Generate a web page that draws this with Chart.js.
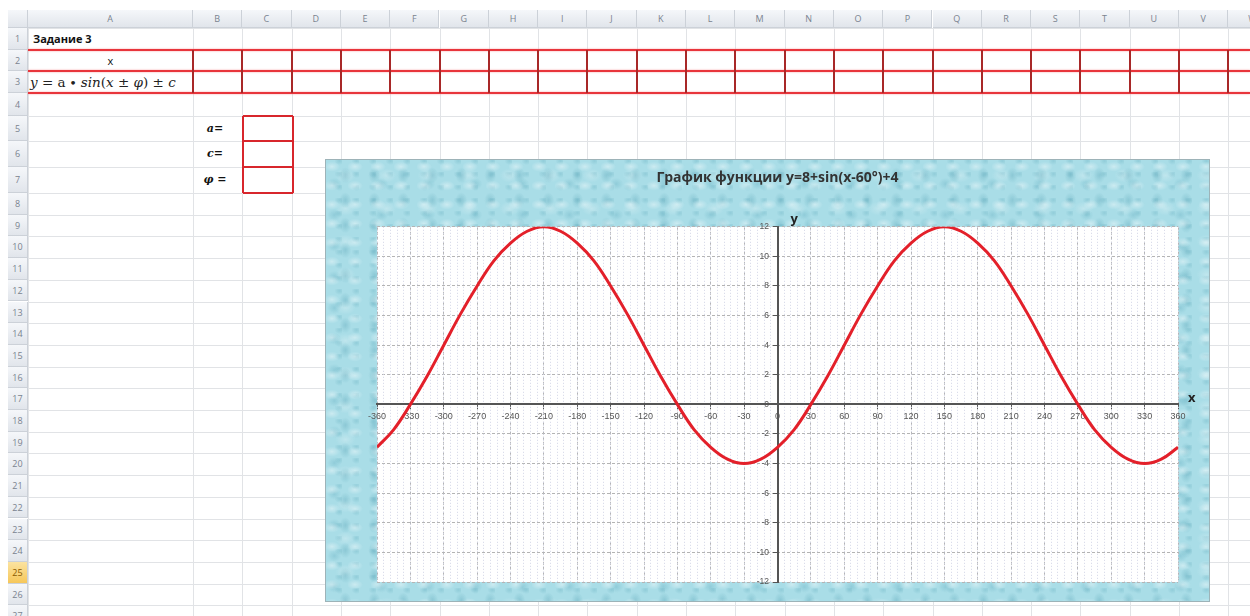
<!DOCTYPE html>
<html>
<head>
<meta charset="utf-8">
<script src="https://cdn.jsdelivr.net/npm/chart.js@4.4.0/dist/chart.umd.min.js"></script>
<style>
body { margin: 0; width: 1250px; height: 616px; overflow: hidden; background: #fff; position: relative; font-family: "Open Sans", "Noto Sans", sans-serif; }
.ln { position: absolute; background: #e1e3e6; }
.hdr { position: absolute; box-sizing: border-box; background: linear-gradient(#f5f7fa, #e1e5eb); color: #7a838f; font-size: 9px; text-align: center; border-right: 1px solid #ccd1d8; border-bottom: 1px solid #ccd1d8; }
.sel { background: linear-gradient(#fbe3a0, #f6c75a); color: #8a5a00; }
.txt { position: absolute; white-space: nowrap; color: #111; }
.red { position: absolute; }
#chartBox {
    position: absolute; left: 325px; top: 159px; width: 885px; height: 443px;
    box-shadow: inset 0 0 0 1px #9db3b8;
    background-color: #a9dde7;
    background-image:
        radial-gradient(8px 5px at 30% 40%, rgba(255,255,255,0.40), transparent),
        radial-gradient(6px 8px at 70% 65%, rgba(70,150,170,0.30), transparent),
        radial-gradient(10px 7px at 50% 50%, rgba(255,255,255,0.25), transparent),
        radial-gradient(7px 6px at 20% 80%, rgba(80,160,180,0.28), transparent),
        radial-gradient(5px 4px at 85% 15%, rgba(90,165,185,0.30), transparent);
    background-size: 23px 19px, 29px 25px, 41px 33px, 47px 31px, 17px 13px;
}
</style>
</head>
<body>
<div id="sheet"></div>
<div id="chartBox"><canvas id="funcChart"></canvas></div>
<script>
// values
const xValues = [-360, -345, -330, -315, -300, -285, -270, -255, -240, -225, -210, -195, -180, -165, -150, -135, -120, -105, -90, -75, -60, -45, -30, -15,
                 0, 15, 30, 45, 60, 75, 90, 105, 120, 135, 150, 165, 180, 195, 210, 225, 240, 255, 270, 285, 300, 315, 330, 345, 360];
const yValues = [-2.9, -1.7, 0, 1.9, 4, 6.1, 8, 9.7, 10.9, 11.7, 12, 11.7, 10.9, 9.7, 8, 6.1, 4, 1.9, 0, -1.7, -2.9, -3.7, -4, -3.7,
                 -2.9, -1.7, 0, 1.9, 4, 6.1, 8, 9.7, 10.9, 11.7, 12, 11.7, 10.9, 9.7, 8, 6.1, 4, 1.9, 0, -1.7, -2.9, -3.7, -4, -3.7, -2.9];
const xTickValues = [-360, -330, -300, -270, -240, -210, -180, -150, -120, -90, -60, -30, 0, 30, 60, 90, 120, 150, 180, 210, 240, 270, 300, 330, 360];
const yTickValues = [-12, -10, -8, -6, -4, -2, 0, 2, 4, 6, 8, 10, 12];

// spreadsheet around the chart
const sheet = document.getElementById('sheet');
function box(cls, l, t, w, h, html, style) {
    const d = document.createElement('div');
    d.className = cls;
    d.style.left = l + 'px'; d.style.top = t + 'px';
    d.style.width = w + 'px'; d.style.height = h + 'px';
    if (style) d.style.cssText += style;
    if (html) d.innerHTML = html;
    sheet.appendChild(d);
    return d;
}

const letters = 'ABCDEFGHIJKLMNOPQRSTUVW';
const colEdges = [28];
for (let k = 0; k < 24; k++) colEdges.push(193 + k * 49.3);
const rowEdges = [28, 50, 71, 93, 116, 141, 167, 193];
for (let k = 1; k < 21; k++) rowEdges.push(193 + k * 21.7);

colEdges.forEach(x => box('ln', x, 28, 1, 600));
rowEdges.forEach(y => box('ln', 28, y, 1230, 1));

box('hdr', 8, 10, 20, 18, '');
for (let i = 0; i < letters.length; i++) {
    const l = colEdges[i], w = colEdges[i + 1] - l;
    box('hdr', l, 10, w, 18, letters[i], 'line-height:18px;');
}
for (let r = 0; r < rowEdges.length - 1; r++) {
    const t = rowEdges[r], h = rowEdges[r + 1] - t;
    box('hdr' + (r === 24 ? ' sel' : ''), 8, t, 20, h, String(r + 1), 'line-height:' + h + 'px;');
}

// red bordered rows 2-3
[50, 71, 93].forEach(y => box('red', 28, y - 1, 1222, 2, '', 'background:#e8353b;box-shadow:0 0 2px #f59a9d;'));
colEdges.slice(1).forEach(x => box('red', x - 1, 50, 2, 43, '', 'background:#a82828;'));
// a=, c=, phi= boxes
[116, 141, 167, 193].forEach(y => box('red', 243, y - 1, 50, 2, '', 'background:#d8262c;'));
[243, 293].forEach(x => box('red', x - 1, 116, 2, 77, '', 'background:#d8262c;'));

box('txt', 33, 30, 150, 18, 'Задание 3', 'font-weight:bold;font-size:11px;line-height:18px;');
box('txt', 28, 51, 165, 20, 'x', 'text-align:center;font-size:11px;line-height:20px;');
box('txt', 30, 72, 163, 20, '<i>y</i> = a ∙ <i>sin</i>(<i>x</i> ± <i>φ</i>) ± <i>c</i>', 'font-family:"DejaVu Serif",serif;font-size:13.5px;line-height:20px;color:#222;');
box('txt', 195, 117, 40, 24, 'a=', 'text-align:center;font-style:italic;font-weight:bold;font-size:11px;line-height:24px;font-family:"DejaVu Serif",serif;');
box('txt', 195, 142, 40, 24, 'c=', 'text-align:center;font-style:italic;font-weight:bold;font-size:11px;line-height:24px;font-family:"DejaVu Serif",serif;');
box('txt', 195, 168, 40, 24, 'φ =', 'text-align:center;font-style:italic;font-weight:bold;font-size:11px;line-height:24px;font-family:"DejaVu Serif",serif;');

// chart
const plotBackground = {
    id: 'plotBackground',
    beforeDraw(chart) {
        const {ctx, chartArea} = chart;
        ctx.save();
        ctx.fillStyle = '#ffffff';
        ctx.fillRect(chartArea.left, chartArea.top, chartArea.right - chartArea.left, chartArea.bottom - chartArea.top);
        ctx.restore();
    }
};

const axisNames = {
    id: 'axisNames',
    afterDraw(chart) {
        const {ctx, chartArea, scales} = chart;
        ctx.save();
        ctx.font = 'bold 13px "Open Sans"';
        ctx.fillStyle = '#222';
        ctx.textAlign = 'left';
        ctx.textBaseline = 'middle';
        ctx.fillText('y', scales.x.getPixelForValue(0) + 13, chartArea.top - 8);
        ctx.fillText('x', chartArea.right + 10, scales.y.getPixelForValue(0) - 6);
        ctx.restore();
    }
};

const ctx = document.getElementById('funcChart');
new Chart(ctx.getContext('2d'), {
    type: 'line',
    data: {
        datasets: [{
            data: xValues.map((x, i) => ({x: x, y: yValues[i]})),
            xAxisID: 'x',
            yAxisID: 'y',
            borderColor: '#e3202a',
            borderWidth: 3,
            pointRadius: 0,
            fill: false,
            tension: 0.4
        }]
    },
    options: {
        responsive: true,
        maintainAspectRatio: false,
        animation: false,
        layout: { padding: { left: 52, right: 32, top: 0, bottom: 20 } },
        plugins: {
            legend: { display: false },
            tooltip: { enabled: false },
            title: {
                display: true,
                text: 'График функции y=8+sin(x-60°)+4',
                color: '#333',
                font: { size: 14, weight: 'bold', family: '"Open Sans"' },
                padding: { top: 11, bottom: 40 }
            }
        },
        scales: {
            x: {
                type: 'linear',
                position: { y: 0 },
                min: -360,
                max: 360,
                afterBuildTicks: s => { s.ticks = xTickValues.map(v => ({value: v})); },
                afterFit: s => { s.height = 0; },
                ticks: { autoSkip: false, maxRotation: 0, color: '#555', font: { size: 9 }, padding: 3 },
                grid: { color: '#b4b4b4', lineWidth: 1, tickLength: 4, tickColor: '#555', borderDash: [3, 2] },
                border: { color: '#555', width: 2, dash: [3, 2] }
            },
            y: {
                type: 'linear',
                position: { x: 0 },
                min: -12,
                max: 12,
                afterBuildTicks: s => { s.ticks = yTickValues.map(v => ({value: v})); },
                afterFit: s => { s.width = 0; },
                ticks: { color: '#555', font: { size: 8.5 }, callback: v => v + '\u2002\u2002' },
                grid: { color: '#b4b4b4', lineWidth: 1, tickLength: 4, tickColor: '#555', borderDash: [3, 2] },
                border: { color: '#555', width: 2, dash: [3, 2] }
            },
            xMinor: {
                type: 'linear',
                axis: 'x',
                position: 'bottom',
                min: -360,
                max: 360,
                afterFit: s => { s.height = 0; },
                ticks: { display: false, stepSize: 6 },
                grid: { color: '#d2d5e6', lineWidth: 1, drawTicks: false, z: -1, borderDash: [1, 2] },
                border: { display: false, dash: [1, 2] }
            }
        }
    },
    plugins: [plotBackground, axisNames]
});
</script>
</body>
</html>
